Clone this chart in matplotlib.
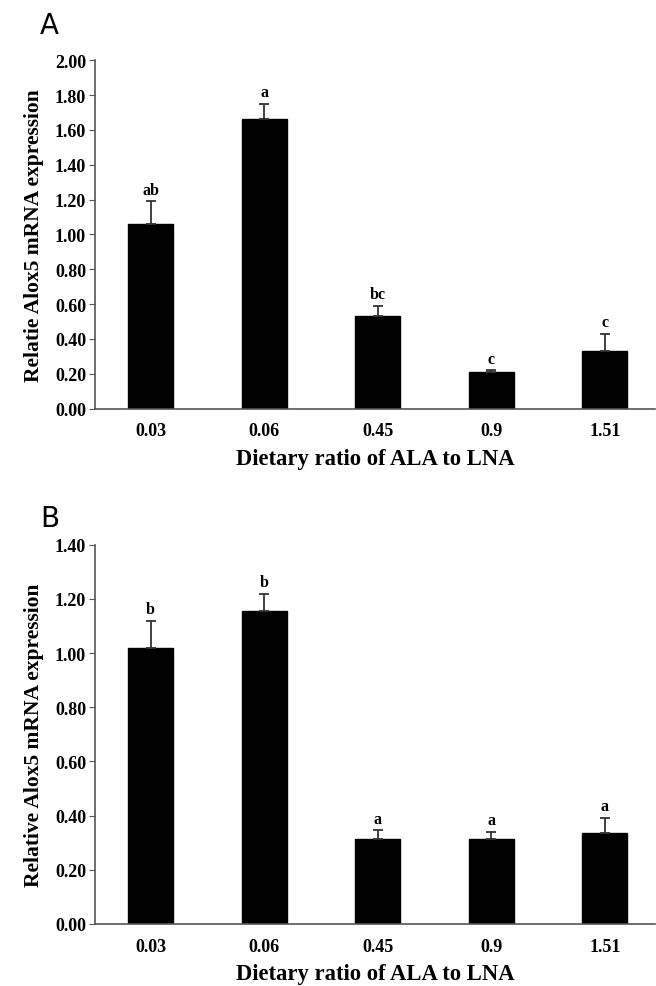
import numpy as np
import matplotlib.pyplot as plt

ratios = ["0.03", "0.06", "0.45", "0.9", "1.51"]

# panel A
a_mean = [1.06, 1.66, 0.53, 0.21, 0.33]
a_err = [0.13, 0.09, 0.06, 0.01, 0.10]
a_letters = ["ab", "a", "bc", "c", "c"]

# panel B
b_mean = [1.02, 1.155, 0.315, 0.315, 0.335]
b_err = [0.10, 0.065, 0.03, 0.025, 0.055]
b_letters = ["b", "b", "a", "a", "a"]

serif = "Liberation Serif"


def drawPanel(ax, means, errs, letters, ymax, ylabel):
    x = np.arange(len(ratios))
    ax.bar(x, means, width=0.4, color="black", edgecolor="black")
    ax.errorbar(x, means, yerr=[np.zeros(len(errs)), errs], fmt="none",
                ecolor="#333333", elinewidth=1.3, capsize=3.5, capthick=1.3)
    for xi, m, e, lab in zip(x, means, errs, letters):
        ax.text(xi, m + e + ymax * 0.01, lab, ha="center", va="bottom",
                fontsize=11.5, fontweight="bold", family=serif)
    ax.set_xlim(-0.49, 4.44)
    ax.set_ylim(0, ymax)
    ticks = np.arange(0, ymax + 0.001, 0.2)
    ax.set_yticks(ticks)
    ax.set_yticklabels(["%.2f" % v for v in ticks])
    ax.set_xticks(x)
    ax.set_xticklabels(ratios)
    for s in ["top", "right"]:
        ax.spines[s].set_visible(False)
    for s in ["left", "bottom"]:
        ax.spines[s].set_color("#555555")
        ax.spines[s].set_linewidth(1.2)
    ax.tick_params(axis="y", direction="out", length=4, color="#555555", pad=2.5)
    ax.tick_params(axis="x", length=0, pad=10)
    for lab in ax.get_xticklabels() + ax.get_yticklabels():
        lab.set_family(serif)
        lab.set_fontweight("bold")
        lab.set_fontsize(13)
    ax.set_ylabel(ylabel, family=serif, fontweight="bold", fontsize=15.5, labelpad=8)
    ax.set_xlabel("Dietary ratio of ALA to LNA", family=serif, fontweight="bold",
                  fontsize=16.3, labelpad=6)


fig = plt.figure(figsize=(6.56, 9.87), dpi=100)
axA = fig.add_axes([0.145, 0.585, 0.853, 0.353])
axB = fig.add_axes([0.145, 0.063, 0.853, 0.384])

drawPanel(axA, a_mean, a_err, a_letters, 2.0, "Relatie Alox5 mRNA expression")
drawPanel(axB, b_mean, b_err, b_letters, 1.4, "Relative Alox5 mRNA expression")

fig.text(0.061, 0.966, "A", fontsize=20, family="DejaVu Sans", ha="left", va="baseline")
fig.text(0.061, 0.466, "B", fontsize=20, family="DejaVu Sans", ha="left", va="baseline")

fig.savefig("out.png", dpi=100)
